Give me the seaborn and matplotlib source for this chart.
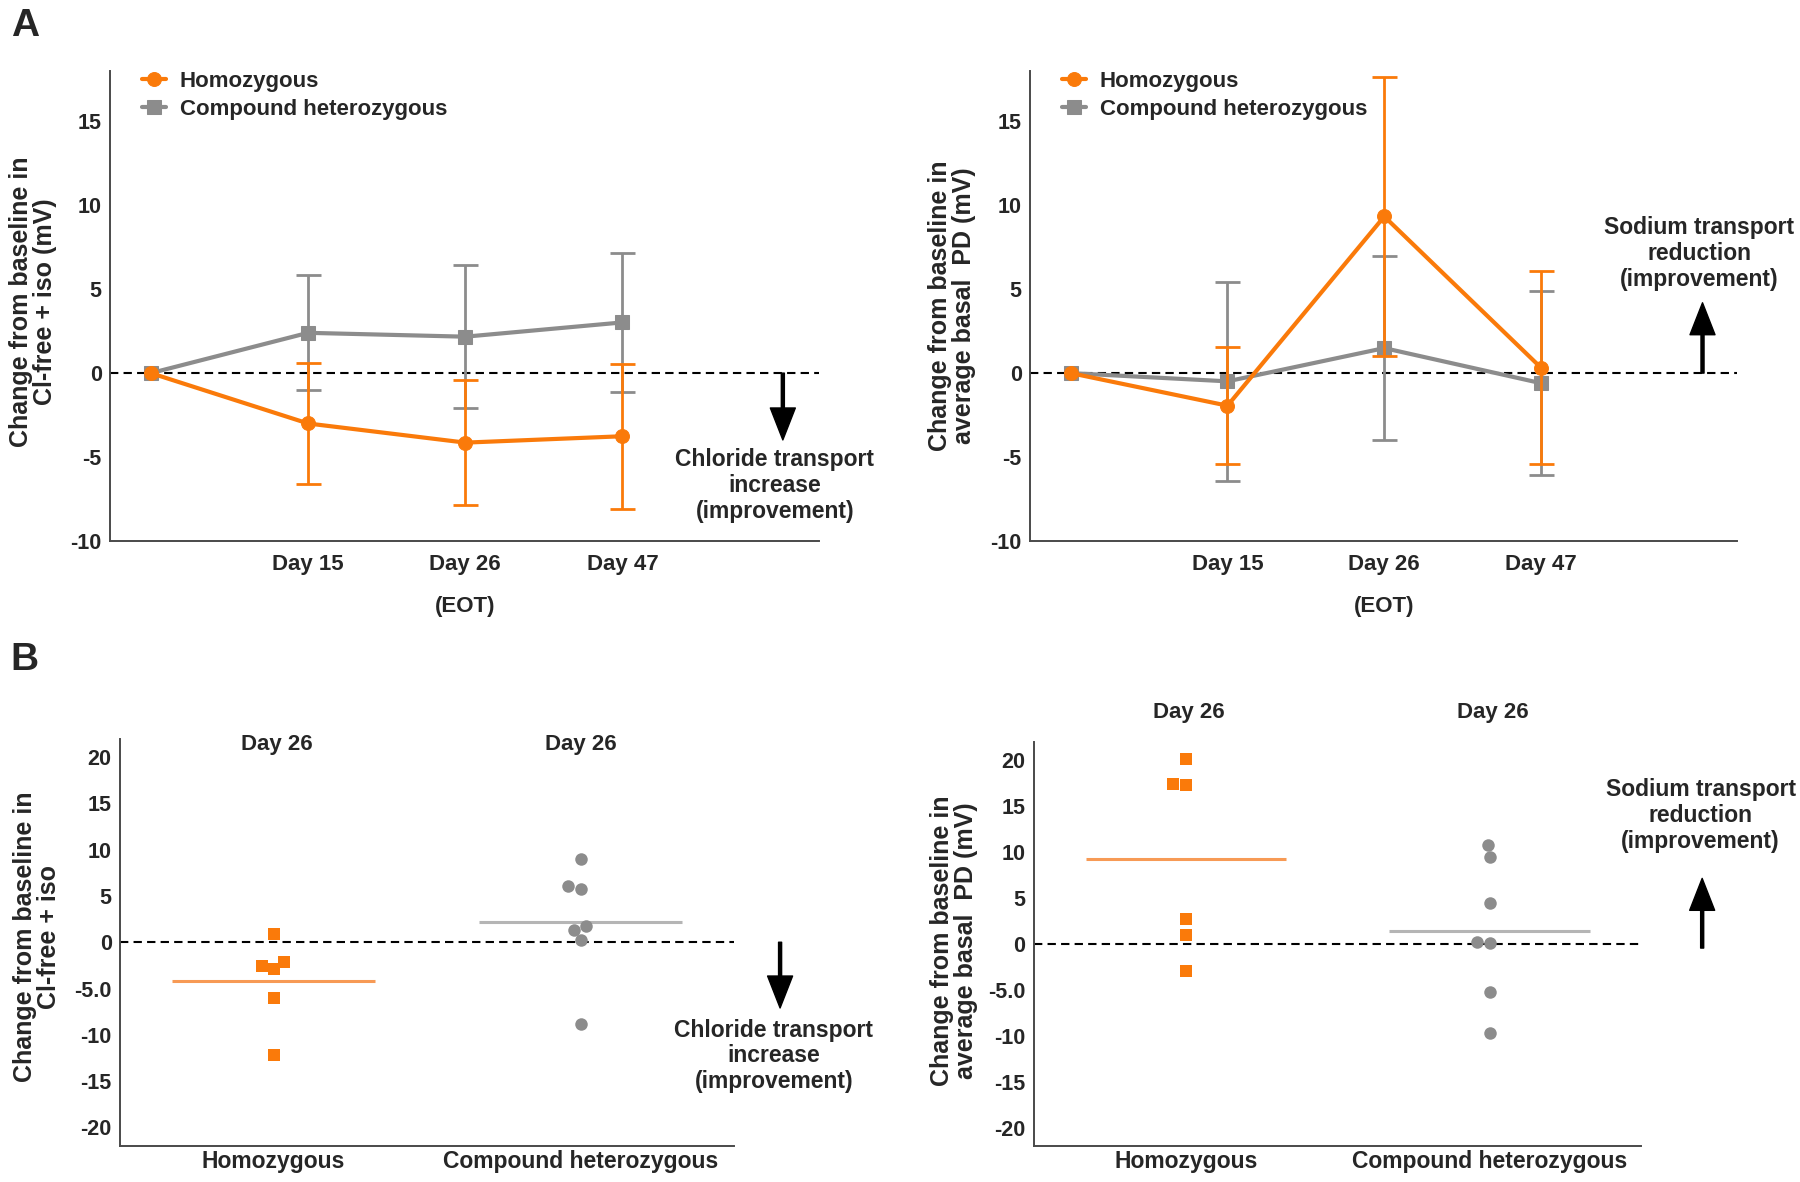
import numpy as np
import pandas as pd
import seaborn as sns
import matplotlib.pyplot as plt

# ---- data ----
timepoints = ["Baseline", "Day 15", "Day 26", "Day 47"]
time_labels = ["", "Day 15", "Day 26", "Day 47"]

# panel A left: Cl-free + iso, mean and SD
clfree_homo_mean = [0, -3.0, -4.14, -3.76]
clfree_homo_sd = [0, 3.6, 3.73, 4.31]
clfree_het_mean = [0, 2.40, 2.17, 3.02]
clfree_het_sd = [0, 3.42, 4.27, 4.13]

# panel A right: average basal PD, mean and SD
basal_homo_mean = [0, -1.94, 9.33, 0.32]
basal_homo_sd = [0, 3.5, 8.3, 5.75]
basal_het_mean = [0, -0.49, 1.49, -0.6]
basal_het_sd = [0, 5.92, 5.48, 5.49]

# panel B: individual values at day 26
groups = ["Homozygous", "Compound heterozygous"]
clfree_b_homo = [0.9, -2.1, -2.85, -2.55, -6.0, -12.2]
clfree_b_het = [9.0, 5.7, 6.1, 1.35, 1.7, 0.2, -8.85]
basal_b_homo = [20.1, 17.4, 17.3, 2.75, 0.95, -2.9]
basal_b_het = [10.8, 9.45, 4.5, 0.05, 0.25, -5.2, -9.7]

b_ticks = [20, 15, 10, 5, 0, -5, -10, -15, -20]
b_tick_labels = ["20", "15", "10", "5", "0", "-5.0", "-10", "-15", "-20"]

ORANGE = "#FA7A0A"
GRAY = "#8C8C8C"
ORANGE_LIGHT = "#F79A55"
GRAY_LIGHT = "#B5B5B5"

sns.set_style("white")
plt.rcParams["font.family"] = ["Liberation Sans", "DejaVu Sans"]
plt.rcParams["font.weight"] = "bold"
plt.rcParams["axes.unicode_minus"] = False
plt.rcParams["axes.edgecolor"] = "#4a4a4a"
plt.rcParams["axes.linewidth"] = 1.4

fig = plt.figure(figsize=(18, 11.82), dpi=100)
axA1 = fig.add_axes([0.0611, 0.5423, 0.3939, 0.3977])
axA2 = fig.add_axes([0.5722, 0.5423, 0.3928, 0.3977])
axB1 = fig.add_axes([0.0667, 0.0305, 0.3411, 0.3447])
axB2 = fig.add_axes([0.5744, 0.0305, 0.3375, 0.3418])


def style_axes(ax):
    sns.despine(ax=ax)
    ax.tick_params(axis="y", length=5, width=1.2, color="#4a4a4a", pad=1,
                   labelsize=15.5)
    ax.tick_params(axis="x", length=5, width=1.2, color="#4a4a4a", pad=4,
                   labelsize=16)
    for lab in ax.get_xticklabels() + ax.get_yticklabels():
        lab.set_fontweight("bold")


def draw_time_panel(ax, homo_m, homo_sd, het_m, het_sd, ylabel):
    x = np.arange(len(timepoints))
    df = pd.DataFrame({"x": x, "homo": homo_m, "het": het_m})
    # gray first so orange sits on top
    ax.errorbar(x[1:], het_m[1:], yerr=het_sd[1:], fmt="none", ecolor=GRAY,
                elinewidth=2, capsize=9, capthick=2)
    sns.lineplot(data=df, x="x", y="het", ax=ax, color=GRAY, linewidth=3,
                 marker="s", markersize=10, markeredgecolor=GRAY,
                 label="Compound heterozygous")
    ax.errorbar(x[1:], homo_m[1:], yerr=homo_sd[1:], fmt="none",
                ecolor=ORANGE, elinewidth=2, capsize=9, capthick=2)
    sns.lineplot(data=df, x="x", y="homo", ax=ax, color=ORANGE, linewidth=3,
                 marker="o", markersize=10, markeredgecolor=ORANGE,
                 label="Homozygous")
    ax.axhline(0, color="black", lw=1.5, ls=(0, (4, 2.5)), zorder=0.5)
    ax.set_xlim(-0.26, 4.25)
    ax.set_ylim(-10, 18)
    ax.set_xticks(x)
    ax.set_xticklabels(time_labels)
    ax.set_yticks([15, 10, 5, 0, -5, -10])
    ax.set_xlabel("")
    ax.set_ylabel(ylabel, fontsize=18, fontweight="bold", linespacing=1.0)
    ax.text(2, -0.14, "(EOT)", transform=ax.get_xaxis_transform(),
            ha="center", va="center", fontsize=16, fontweight="bold")
    h, l = ax.get_legend_handles_labels()
    ax.legend(h[::-1], l[::-1], loc="upper left", frameon=False,
              fontsize=16, handlelength=1.1, handletextpad=0.6,
              labelspacing=0.3, borderpad=0, borderaxespad=0,
              bbox_to_anchor=(0.045, 1.0))
    style_axes(ax)


def draw_swarm_panel(ax, homo_vals, het_vals, ylabel):
    df_h = pd.DataFrame({"group": groups[0], "value": homo_vals})
    df_c = pd.DataFrame({"group": groups[1], "value": het_vals})
    sns.swarmplot(data=df_h, x="group", y="value", order=groups, ax=ax,
                  color=ORANGE, marker="s", size=8.5)
    sns.swarmplot(data=df_c, x="group", y="value", order=groups, ax=ax,
                  color=GRAY, marker="o", size=9)
    ax.hlines(np.mean(homo_vals), -0.33, 0.33, color=ORANGE_LIGHT, lw=2.2)
    ax.hlines(np.mean(het_vals), 0.67, 1.33, color=GRAY_LIGHT, lw=2.2)
    ax.axhline(0, color="black", lw=1.5, ls=(0, (4, 2.5)), zorder=0.5)
    ax.set_xlim(-0.5, 1.5)
    ax.set_ylim(-22, 22)
    ax.set_yticks(b_ticks)
    ax.set_yticklabels(b_tick_labels)
    ax.set_xlabel("")
    ax.set_ylabel(ylabel, fontsize=18, fontweight="bold", linespacing=1.0)
    style_axes(ax)
    ax.tick_params(axis="x", length=0, pad=3, labelsize=16.5)


draw_time_panel(axA1, clfree_homo_mean, clfree_homo_sd, clfree_het_mean,
                clfree_het_sd, "Change from baseline in\nCl-free + iso (mV)")
draw_time_panel(axA2, basal_homo_mean, basal_homo_sd, basal_het_mean,
                basal_het_sd, "Change from baseline in\naverage basal  PD (mV)")
draw_swarm_panel(axB1, clfree_b_homo, clfree_b_het,
                 "Change from baseline in\nCl-free + iso")
draw_swarm_panel(axB2, basal_b_homo, basal_b_het,
                 "Change from baseline in\naverage basal  PD (mV)")

axA1.yaxis.set_label_coords(-0.075, 0.51)
axA2.yaxis.set_label_coords(-0.076, 0.5)
axB1.yaxis.set_label_coords(-0.096, 0.513)
axB2.yaxis.set_label_coords(-0.092, 0.508)

arrow_kw = dict(facecolor="black", edgecolor="black", width=2.2,
                headwidth=18, headlength=23, shrink=0)
note_kw = dict(ha="center", va="center", fontsize=16.5, fontweight="bold",
               linespacing=1.15)

axA1.annotate("", xy=(4.02, -3.98), xytext=(4.02, 0), arrowprops=arrow_kw)
axA1.text(3.97, -6.7, "Chloride transport\nincrease\n(improvement)",
          **note_kw)
axA2.annotate("", xy=(4.03, 4.19), xytext=(4.03, 0), arrowprops=arrow_kw,
              annotation_clip=False)
axA2.text(4.01, 7.13, "Sodium transport\nreduction\n(improvement)",
          **note_kw)

axB1.annotate("", xy=(1.65, -7.1), xytext=(1.65, 0), arrowprops=arrow_kw,
              annotation_clip=False)
axB1.text(1.63, -12.26, "Chloride transport\nincrease\n(improvement)",
          **note_kw)
axB2.annotate("", xy=(1.70, 7.14), xytext=(1.70, -0.45), arrowprops=arrow_kw,
              annotation_clip=False)
axB2.text(1.695, 14.0, "Sodium transport\nreduction\n(improvement)",
          **note_kw)

for xpos in [0.01, 1.0]:
    axB1.text(xpos, 21.3, "Day 26", ha="center", va="center", fontsize=16,
              fontweight="bold")
for xpos in [0.01, 1.01]:
    axB2.text(xpos, 25.2, "Day 26", ha="center", va="center", fontsize=16,
              fontweight="bold")

fig.text(0.006, 0.993, "A", ha="left", va="top", fontsize=28,
         fontweight="bold")
fig.text(0.006, 0.457, "B", ha="left", va="top", fontsize=28,
         fontweight="bold")

fig.savefig("out.png", dpi=100)
